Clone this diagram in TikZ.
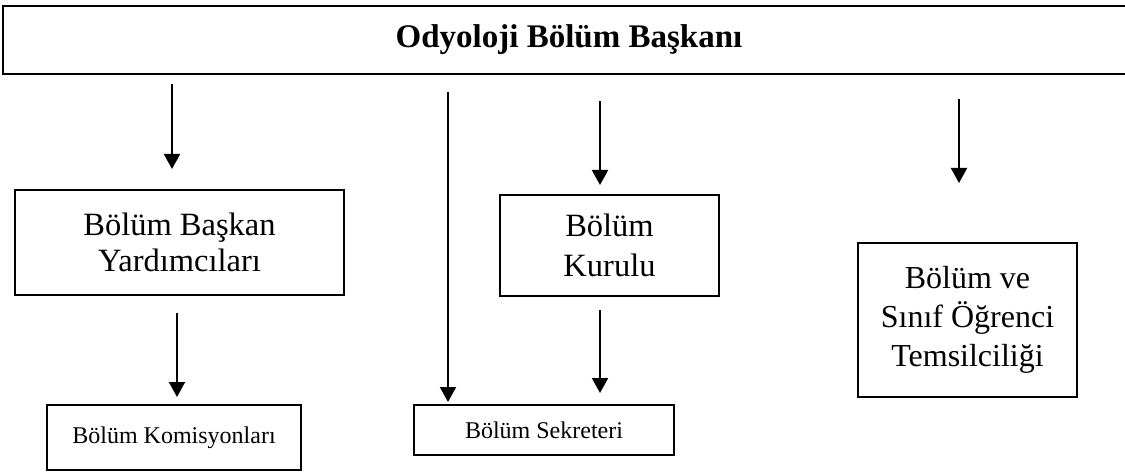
\documentclass[tikz,border=0pt]{standalone}
\usepackage{fontspec}
\setmainfont{Liberation Serif}
\usetikzlibrary{arrows.meta}
\begin{document}
\begin{tikzpicture}[x=1pt,y=-1pt,
  box/.style={draw,line width=2pt,inner sep=0pt,align=center},
  big/.style={font=\fontsize{32.5}{36}\selectfont},
  small/.style={font=\fontsize{24}{28}\selectfont},
  arr/.style={line width=2pt,-{Triangle[width=16pt,length=15pt]}}]
\clip (0,0) rectangle (1125,473);
\fill[white] (0,0) rectangle (1125,473);
% boxes
\node[box,minimum width=1132pt,minimum height=68pt,font=\fontsize{33}{36}\selectfont\bfseries] (top) at (569,40) {Odyoloji Bölüm Başkanı};
\node[box,big,minimum width=329pt,minimum height=105pt] (yard) at (179.5,242.5) {Bölüm Başkan\\Yardımcıları};
\node[box,small,minimum width=254pt,minimum height=65pt] (kom) at (174,437.5) {Bölüm Komisyonları};
\node[box,font=\fontsize{32.5}{40}\selectfont,minimum width=219pt,minimum height=101pt] (kur) at (609.5,245.5) {Bölüm\\Kurulu};
\node[box,small,minimum width=260pt,minimum height=50pt] (sek) at (544,430) {Bölüm Sekreteri};
\node[box,font=\fontsize{32}{39}\selectfont,minimum width=219pt,minimum height=154pt] (tem) at (967.5,320) {Bölüm ve\\Sınıf Öğrenci\\Temsilciliği};
% arrow end points
\coordinate (a1s) at (172,84);  \coordinate (a1e) at (172,169);
\coordinate (a2s) at (177,313); \coordinate (a2e) at (177,397);
\coordinate (a3s) at (448,92);  \coordinate (a3e) at (448,402);
\coordinate (a4s) at (600,101); \coordinate (a4e) at (600,185);
\coordinate (a5s) at (600,310); \coordinate (a5e) at (600,393);
\coordinate (a6s) at (959,99);  \coordinate (a6e) at (959,183);
\draw[arr] (a1s) -- (a1e);
\draw[arr] (a2s) -- (a2e);
\draw[arr] (a3s) -- (a3e);
\draw[arr] (a4s) -- (a4e);
\draw[arr] (a5s) -- (a5e);
\draw[arr] (a6s) -- (a6e);
\end{tikzpicture}
\end{document}
